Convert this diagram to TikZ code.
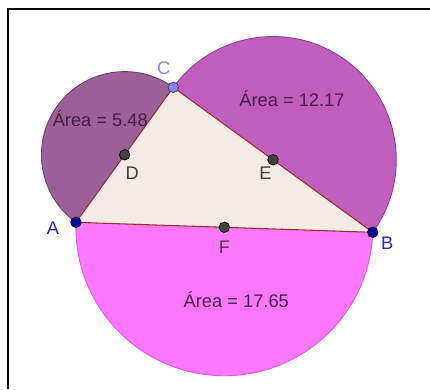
\documentclass[tikz,border=0pt]{standalone}
\usepackage{fontspec}
\setmainfont{Liberation Sans}
\usepackage{tkz-euclide}

\definecolor{semiAC}{RGB}{155,96,152}
\definecolor{semiACline}{RGB}{118,58,115}
\definecolor{semiBC}{RGB}{192,94,190}
\definecolor{semiBCline}{RGB}{150,60,150}
\definecolor{semiAB}{RGB}{255,118,255}
\definecolor{semiABline}{RGB}{225,90,225}
\definecolor{trifill}{RGB}{244,235,230}
\definecolor{triline}{RGB}{150,45,45}
\definecolor{areatext}{RGB}{72,30,72}
\definecolor{ptblue}{RGB}{10,10,160}
\definecolor{ptlight}{RGB}{130,130,255}
\definecolor{ptgray}{RGB}{64,64,64}
\definecolor{lblblue}{RGB}{40,40,200}

\begin{document}
\begin{tikzpicture}[
  arealbl/.style={text=areatext,font=\fontsize{10.4}{12}\selectfont,inner sep=0pt},
  ptlbl/.style={font=\fontsize{10.4}{12}\selectfont,inner sep=0pt}]
  \useasboundingbox (0,0) rectangle (8.6,7.78);
  \draw[line width=1.2pt] (8.6,7.6) -- (0.16,7.6) -- (0.16,0);
  \tkzDefPoints{1.52/3.334/A,3.466/6.034/C,7.454/3.134/B}
  \tkzDefMidPoint(A,C)\tkzGetPoint{D}
  \tkzDefMidPoint(C,B)\tkzGetPoint{E}
  \tkzDefMidPoint(A,B)\tkzGetPoint{F}
  \tkzDrawSemiCircle[draw=semiACline,fill=semiAC,line width=0.5pt](D,C)
  \tkzDrawSemiCircle[draw=semiBCline,fill=semiBC,line width=0.5pt](E,B)
  \tkzDrawSemiCircle[draw=semiABline,fill=semiAB,line width=0.5pt](F,A)
  \tkzFillPolygon[fill=trifill](A,C,B)
  \tkzDrawPolygon[draw=triline,line width=0.6pt](A,C,B)
  \tkzDrawPoints[size=6,color=black,fill=ptgray](D,E,F)
  \tkzDrawPoints[size=6,color=black,fill=ptblue](A,B)
  \tkzDrawPoints[size=6,color=ptgray,fill=ptlight](C)
  \node[ptlbl,text=lblblue,xshift=-0.46cm,yshift=-0.11cm] (lA) at (A) {A};
  \node[ptlbl,text=lblblue,xshift=0.29cm,yshift=-0.21cm] (lB) at (B) {B};
  \node[ptlbl,text=ptlight,xshift=-0.19cm,yshift=0.39cm] (lC) at (C) {C};
  \node[ptlbl,text=ptgray,xshift=0.15cm,yshift=-0.36cm] (lD) at (D) {D};
  \node[ptlbl,text=ptgray,xshift=-0.15cm,yshift=-0.26cm] (lE) at (E) {E};
  \node[ptlbl,text=ptgray,yshift=-0.39cm] (lF) at (F) {F};
  \node[arealbl] (areaAC) at (2.006,5.414) {Área = 5.48};
  \node[arealbl] (areaBC) at (5.84,5.814) {Área = 12.17};
  \node[arealbl] (areaAB) at (4.726,1.78) {Área = 17.65};
\end{tikzpicture}
\end{document}
